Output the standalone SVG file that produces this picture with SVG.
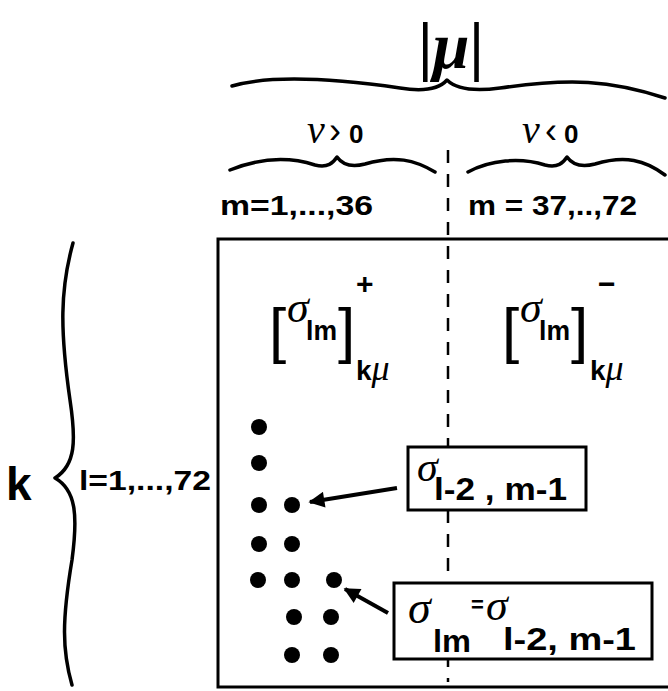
<svg xmlns="http://www.w3.org/2000/svg" width="668" height="691" viewBox="0 0 668 691">
<defs>
<style>
.sans{font-family:"Liberation Sans",Arial,sans-serif;font-weight:bold;fill:#000}
.greek{font-family:"Liberation Serif","Times New Roman",serif;font-style:italic;fill:#000}
.brk{font-family:"Liberation Sans",Arial,sans-serif;font-size:62px;fill:#000}
.brace{fill:none;stroke:#000;stroke-width:3.5;stroke-linecap:round;stroke-linejoin:round}
.frame{fill:#fff;stroke:#000;stroke-width:3}
.dot{fill:#000}
.arrow{stroke:#000;stroke-width:4;fill:none}
</style>
<marker id="ah" viewBox="0 0 10 10" refX="9" refY="5" markerWidth="5" markerHeight="4" orient="auto" markerUnits="strokeWidth">
<path d="M0,0 L10,5 L0,10 z" fill="#000"/>
</marker>
</defs>
<rect width="668" height="691" fill="#fff"/>

<g id="header">
<text x="451" y="68" text-anchor="middle" style="font-family:'Liberation Serif',serif;font-size:66px;font-weight:bold">|<tspan class="greek">μ</tspan>|</text>
<path class="brace" d="M232,86 C270,75 330,78 400,88 C425,92 440,88 447,80 C455,88 470,92 500,88 C570,78 610,80 665,98"/>
<text y="143"><tspan class="greek" x="307" style="font-size:40px">ν</tspan><tspan class="sans" x="329" style="font-size:36px;font-weight:normal">›</tspan><tspan class="sans" x="349" style="font-size:26px">0</tspan></text>
<text y="143"><tspan class="greek" x="522" style="font-size:40px">ν</tspan><tspan class="sans" x="545" style="font-size:36px;font-weight:normal">‹</tspan><tspan class="sans" x="564" style="font-size:26px">0</tspan></text>
<path class="brace" d="M230,170 C260,158 290,157 315,165 C328,168 333,163 337,157 C342,164 350,168 365,164 C395,155 415,160 435,172"/>
<path class="brace" d="M468,172 C490,160 520,157 545,165 C558,168 563,163 567,157 C572,164 580,168 595,164 C625,155 645,160 665,175"/>
<text class="sans" x="220" y="215" style="font-size:27px" textLength="153" lengthAdjust="spacingAndGlyphs">m=1,...,36</text>
<text class="sans" x="468" y="215" style="font-size:27px" textLength="169" lengthAdjust="spacingAndGlyphs">m = 37,..,72</text>
</g>

<g id="rowlabel">
<text class="sans" x="6" y="500" style="font-size:46px">k</text>
<path class="brace" d="M73,243 C60,290 60,330 70,400 C76,440 76,465 55,478 C76,490 78,515 72,560 C62,620 62,650 72,685"/>
<text class="sans" x="79" y="490" style="font-size:27px" textLength="132" lengthAdjust="spacingAndGlyphs">l=1,...,72</text>
</g>

<g id="matrix">
<rect class="frame" x="218" y="239" width="456" height="448"/>
<line x1="448" y1="150" x2="448" y2="682" stroke="#000" stroke-width="2.5" stroke-dasharray="13 11"/>
</g>

<g id="block-plus">
<text class="brk" x="269" y="351">[</text>
<text class="greek" x="287" y="322" style="font-size:44px">σ</text>
<text class="sans" x="306" y="340" style="font-size:28px" textLength="31" lengthAdjust="spacingAndGlyphs">lm</text>
<text class="brk" x="338" y="351">]</text>
<text class="sans" x="356" y="294" style="font-size:30px">+</text>
<text x="356" y="380"><tspan class="sans" style="font-size:28px">k</tspan><tspan class="greek" style="font-size:36px">μ</tspan></text>
</g>

<g id="block-minus">
<text class="brk" x="502" y="351">[</text>
<text class="greek" x="520" y="322" style="font-size:44px">σ</text>
<text class="sans" x="539" y="340" style="font-size:28px" textLength="31" lengthAdjust="spacingAndGlyphs">lm</text>
<text class="brk" x="571" y="351">]</text>
<text class="sans" x="598" y="294" style="font-size:30px">−</text>
<text x="590" y="380"><tspan class="sans" style="font-size:28px">k</tspan><tspan class="greek" style="font-size:36px">μ</tspan></text>
</g>

<g id="dots">
<circle class="dot" cx="259" cy="427" r="8"/>
<circle class="dot" cx="259" cy="463" r="8"/>
<circle class="dot" cx="259" cy="505" r="8"/>
<circle class="dot" cx="292" cy="505" r="8"/>
<circle class="dot" cx="259" cy="544" r="8"/>
<circle class="dot" cx="292" cy="544" r="8"/>
<circle class="dot" cx="258" cy="580" r="8"/>
<circle class="dot" cx="292" cy="580" r="8"/>
<circle class="dot" cx="334" cy="580" r="8"/>
<circle class="dot" cx="294" cy="617" r="8"/>
<circle class="dot" cx="331" cy="617" r="8"/>
<circle class="dot" cx="292" cy="655" r="8"/>
<circle class="dot" cx="331" cy="655" r="8"/>
</g>

<g id="label-prev">
<rect class="frame" x="408" y="447" width="178" height="63"/>
<text class="greek" x="417" y="481" style="font-size:42px">σ</text>
<text class="sans" x="434" y="500" style="font-size:31px" textLength="133" lengthAdjust="spacingAndGlyphs">l-2 , m-1</text>
</g>

<g id="label-eq">
<rect class="frame" x="394" y="583" width="258" height="76"/>
<text class="greek" x="408" y="623" style="font-size:46px">σ</text>
<text class="sans" x="433" y="652" style="font-size:31px" textLength="38" lengthAdjust="spacingAndGlyphs">lm</text>
<text class="sans" x="471" y="612" style="font-size:22px">=</text>
<text class="greek" x="486" y="620" style="font-size:44px">σ</text>
<text class="sans" x="503" y="650" style="font-size:31px" textLength="133" lengthAdjust="spacingAndGlyphs">l-2, m-1</text>
</g>

<g id="connectors">
<line class="arrow" x1="397" y1="488" x2="310" y2="502" marker-end="url(#ah)"/>
<line class="arrow" x1="388" y1="613" x2="345" y2="589" marker-end="url(#ah)"/>
</g>
</svg>
